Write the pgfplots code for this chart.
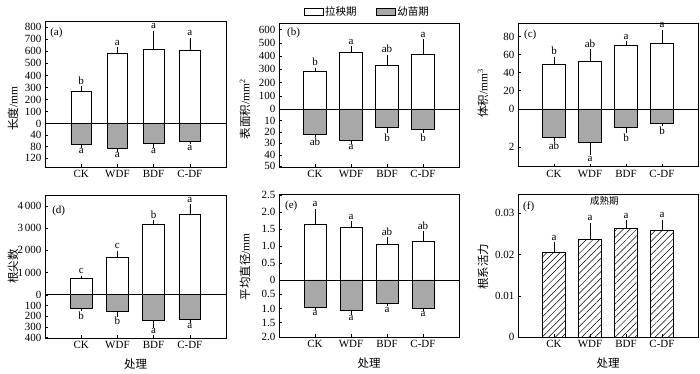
\documentclass[border=0pt]{standalone}
\usepackage{pgfplots}
\pgfplotsset{compat=1.18}
\usepackage{pgfplotstable}
\usetikzlibrary{patterns.meta}
\usepackage{fontspec}
\setmainfont{Liberation Serif}
\newfontfamily\cjk{Noto Sans CJK SC}
\definecolor{barGray}{RGB}{168,168,168}

% ---- data: x, value, error (one direction), letter ----
\pgfplotstableread{
x v e lab
0 265 35 b
1 585 35 a
2 620 140 a
3 610 90 a
}\aUp
\pgfplotstableread{
x v e lab
0 73 6 a
1 87 6 a
2 69 10 a
3 60 7 a
}\aDn
\pgfplotstableread{
x v e lab
0 287 15 b
1 426 37 a
2 332 68 ab
3 413 101 a
}\bUp
\pgfplotstableread{
x v e lab
0 22.1 1.4 ab
1 27.3 1.5 a
2 16.0 3.8 b
3 17.7 1.8 b
}\bDn
\pgfplotstableread{
x v e lab
0 49.3 6.6 b
1 52.6 11.4 ab
2 70.4 2.9 a
3 71.9 14.0 a
}\cUp
\pgfplotstableread{
x v e lab
0 1.51 0.10 ab
1 1.75 0.60 a
2 0.95 0.23 b
3 0.77 0.07 b
}\cDn
\pgfplotstableread{
x v e lab
0 734 60 c
1 1708 210 c
2 3191 90 b
3 3610 405 a
}\dUp
\pgfplotstableread{
x v e lab
0 130 10 b
1 155 34 b
2 239 56 a
3 233 12 a
}\dDn
\pgfplotstableread{
x v e lab
0 1.634 0.423 a
1 1.535 0.155 a
2 1.053 0.157 ab
3 1.150 0.250 ab
}\eUp
\pgfplotstableread{
x v e lab
0 0.97 0.03 a
1 1.05 0.13 a
2 0.81 0.06 a
3 0.98 0.04 a
}\eDn
\pgfplotstableread{
x v e lab
0 0.0206 0.0021 a
1 0.0236 0.0038 a
2 0.0263 0.0017 a
3 0.0259 0.0022 a
}\fAll

\newcommand\tf{\fontsize{11}{13}\selectfont}
\newcommand\cf{\fontsize{11.5}{13}\selectfont}

\pgfplotsset{
  myax/.style={
    scale only axis, xmin=-1, xmax=4,
    xtick={0,1,2,3}, xticklabels={CK,WDF,BDF,C-DF},
    tick align=inside, xtick pos=left, ytick pos=left,
    major tick length=3pt,
    tick style={black, line width=0.5pt},
    axis line style={black, line width=0.6pt},
    ticklabel style={font=\tf},
    scaled y ticks=false,
    ylabel style={font=\cf, anchor=center},
    xlabel style={font=\cf, anchor=center, at={([yshift=-26pt]axis description cs:0.5,0)}},
  },
  ebar/.style={
    error bars/y explicit,
    error bars/error bar style={black, line width=0.6pt},
    error bars/error mark options={black, mark size=1.5pt, line width=0.6pt}},
  upbar/.style={ybar, bar width=#1, bar shift=0pt, fill=white, draw=black,
    line width=0.6pt, forget plot, ebar, error bars/y dir=plus},
  dnbar/.style={ybar, bar width=#1, bar shift=0pt, fill=barGray, draw=black,
    line width=0.6pt, forget plot, ebar, error bars/y dir=minus},
  uplab/.style={draw=none, mark=none, forget plot, nodes near coords, point meta=explicit symbolic,
    nodes near coords style={anchor=south, inner sep=1pt, yshift=2pt, font=\tf, text=black}},
  dnlab/.style={draw=none, mark=none, forget plot, nodes near coords, point meta=explicit symbolic,
    nodes near coords style={anchor=north, inner sep=1pt, yshift=-1pt, font=\tf, text=black}},
  zeroline/.style={black, line width=0.6pt, forget plot},
}

\begin{document}
\begin{tikzpicture}
\useasboundingbox (0,0) rectangle (700pt,-374pt);

% ---------------- (a) ----------------
\begin{axis}[myax, at={(45pt,-167pt)}, anchor=south west, width=181pt, height=146pt,
  ymin=-361, ymax=852,
  ytick={-288,-192,-96,0,100,200,300,400,500,600,700,800},
  yticklabels={120,80,40,0,100,200,300,400,500,600,700,800},
  ylabel={{\cjk 长度}/mm},
  ylabel style={at={([xshift=-32pt]axis description cs:0,0.40)}}]
\addplot[upbar=0.57] table[x=x, y=v, y error=e] {\aUp};
\addplot[dnbar=0.57] table[x=x, y expr=-2.4*\thisrow{v}, y error expr=2.4*\thisrow{e}] {\aDn};
\addplot[zeroline] coordinates {(-1,0) (4,0)};
\addplot[uplab] table[x=x, y expr=\thisrow{v}+\thisrow{e}, meta=lab] {\aUp};
\addplot[dnlab] table[x=x, y expr=-2.4*(\thisrow{v}+\thisrow{e}), meta=lab] {\aDn};
\node[anchor=west, font=\tf, inner sep=0pt] at (axis description cs:0.028,0.918) {(a)};
\end{axis}

% ---------------- (b) ----------------
\begin{axis}[myax, at={(279pt,-167pt)}, anchor=south west, width=180pt, height=144pt,
  ymin=-438.6, ymax=650,
  ytick={-433.5,-346.8,-260.1,-173.4,-86.7,0,100,200,300,400,500,600},
  yticklabels={50,40,30,20,10,0,100,200,300,400,500,600},
  ylabel={{\cjk 表面积}/mm\textsuperscript{2}},
  ylabel style={at={([xshift=-34pt]axis description cs:0,0.40)}},
  legend columns=2,
  legend style={at={(0.49,1)}, anchor=center, yshift=11pt, draw=none, fill=none,
    font={\cjk\fontsize{10.5}{12}\selectfont}, inner sep=0pt,
    /tikz/every even column/.append style={column sep=17pt}}]
\addlegendimage{legend image code/.code={\draw[fill=white,draw=black,line width=0.6pt] (0pt,-3.5pt) rectangle (19pt,3.5pt);}}
\addlegendentry{拉秧期}
\addlegendimage{legend image code/.code={\draw[fill=barGray,draw=black,line width=0.6pt] (0pt,-3.5pt) rectangle (19pt,3.5pt);}}
\addlegendentry{幼苗期}
\addplot[upbar=0.63] table[x=x, y=v, y error=e] {\bUp};
\addplot[dnbar=0.63] table[x=x, y expr=-8.67*\thisrow{v}, y error expr=8.67*\thisrow{e}] {\bDn};
\addplot[zeroline] coordinates {(-1,0) (4,0)};
\addplot[uplab] table[x=x, y expr=\thisrow{v}+\thisrow{e}, meta=lab] {\bUp};
\addplot[dnlab] table[x=x, y expr=-8.67*(\thisrow{v}+\thisrow{e}), meta=lab] {\bDn};
\node[anchor=west, font=\tf, inner sep=0pt] at (axis description cs:0.044,0.93) {(b)};
\end{axis}

% ---------------- (c) ----------------
\begin{axis}[myax, at={(518pt,-166.5pt)}, anchor=south west, width=180pt, height=143.5pt,
  ymin=-63.7, ymax=94.8,
  ytick={-42.2,0,20,40,60,80},
  yticklabels={2,0,20,40,60,80},
  ylabel={{\cjk 体积}/mm\textsuperscript{3}},
  ylabel style={at={([xshift=-35pt]axis description cs:0,0.51)}}]
\addplot[upbar=0.65] table[x=x, y=v, y error=e] {\cUp};
\addplot[dnbar=0.65] table[x=x, y expr=-21.1*\thisrow{v}, y error expr=21.1*\thisrow{e}] {\cDn};
\addplot[zeroline] coordinates {(-1,0) (4,0)};
\addplot[uplab] table[x=x, y expr=\thisrow{v}+\thisrow{e}, meta=lab] {\cUp};
\addplot[dnlab] table[x=x, y expr=-21.1*(\thisrow{v}+\thisrow{e}), meta=lab] {\cDn};
\node[anchor=west, font=\tf, inner sep=0pt] at (axis description cs:0.033,0.92) {(c)};
\end{axis}

% ---------------- (d) ----------------
\begin{axis}[myax, at={(45pt,-338pt)}, anchor=south west, width=181pt, height=143pt,
  ymin=-1948, ymax=4494,
  ytick={-1932,-1449,-966,-483,0,1000,2000,3000,4000},
  yticklabels={400,300,200,100,0,1\,000,2\,000,3\,000,4\,000},
  ylabel={\cjk 根尖数},
  ylabel style={at={([xshift=-32pt]axis description cs:0,0.50)}},
  xlabel={\cjk 处理}]
\addplot[upbar=0.6] table[x=x, y=v, y error=e] {\dUp};
\addplot[dnbar=0.6] table[x=x, y expr=-4.83*\thisrow{v}, y error expr=4.83*\thisrow{e}] {\dDn};
\addplot[zeroline] coordinates {(-1,0) (4,0)};
\addplot[uplab] table[x=x, y expr=\thisrow{v}+\thisrow{e}, meta=lab] {\dUp};
\addplot[dnlab] table[x=x, y expr=-4.83*(\thisrow{v}+\thisrow{e}), meta=lab] {\dDn};
\node[anchor=west, font=\tf, inner sep=0pt] at (axis description cs:0.039,0.89) {(d)};
\end{axis}

% ---------------- (e) ----------------
\begin{axis}[myax, at={(279pt,-337pt)}, anchor=south west, width=180pt, height=143pt,
  ymin=-1.683, ymax=2.53,
  ytick={-1.683,-1.262,-0.8415,-0.421,0,0.5,1,1.5,2,2.5},
  yticklabels={2.0,1.5,1.0,0.5,0,0.5,1.0,1.5,2.0,2.5},
  ylabel={{\cjk 平均直径}/mm},
  ylabel style={at={([xshift=-34pt]axis description cs:0,0.49)}},
  xlabel={\cjk 处理}]
\addplot[upbar=0.6] table[x=x, y=v, y error=e] {\eUp};
\addplot[dnbar=0.6] table[x=x, y expr=-0.8415*\thisrow{v}, y error expr=0.8415*\thisrow{e}] {\eDn};
\addplot[zeroline] coordinates {(-1,0) (4,0)};
\addplot[uplab] table[x=x, y expr=\thisrow{v}+\thisrow{e}, meta=lab] {\eUp};
\addplot[dnlab] table[x=x, y expr=-0.8415*(\thisrow{v}+\thisrow{e}), meta=lab] {\eDn};
\node[anchor=west, font=\tf, inner sep=0pt] at (axis description cs:0.033,0.916) {(e)};
\end{axis}

% ---------------- (f) ----------------
\begin{axis}[myax, at={(518pt,-337pt)}, anchor=south west, width=180pt, height=143pt,
  ymin=0, ymax=0.0347,
  ytick={0,0.01,0.02,0.03},
  yticklabels={0,0.01,0.02,0.03},
  ylabel={\cjk 根系活力},
  ylabel style={at={([xshift=-35pt]axis description cs:0,0.49)}},
  xlabel={\cjk 处理}]
\addplot[ybar, bar width=0.65, bar shift=0pt, draw=black, line width=0.6pt, forget plot,
  pattern={Lines[angle=45,distance=4.7pt,line width=0.5pt]},
  ebar, error bars/y dir=plus] table[x=x, y=v, y error=e] {\fAll};
\addplot[uplab] table[x=x, y expr=\thisrow{v}+\thisrow{e}, meta=lab] {\fAll};
\node[anchor=west, font=\tf, inner sep=0pt] at (axis description cs:0.028,0.91) {(f)};
\node[font={\cjk\fontsize{9.5}{11}\selectfont}] at (axis description cs:0.48,0.951) {成熟期};
\end{axis}
\end{tikzpicture}
\end{document}
